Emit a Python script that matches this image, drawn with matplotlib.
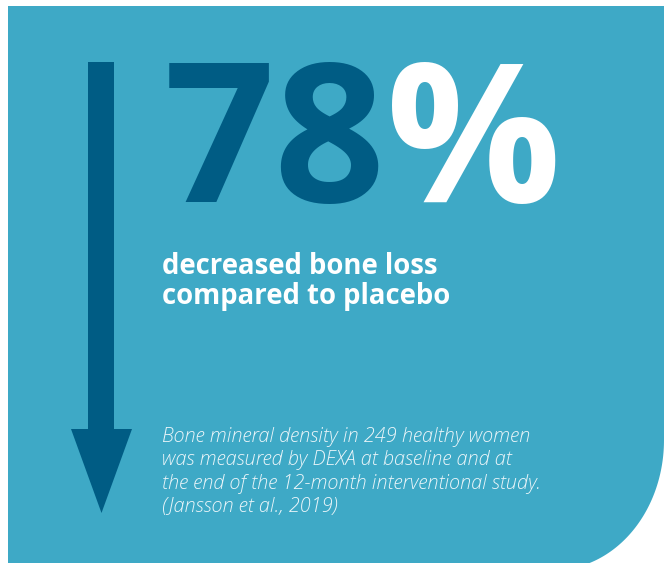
import matplotlib
matplotlib.use('Agg')
import matplotlib.pyplot as plt
from matplotlib.patches import Polygon
import numpy as np

# data
value = 78
headline = ['decreased bone loss', 'compared to placebo']
note = ['Bone mineral density in 249 healthy women',
        'was measured by DEXA at baseline and at',
        'the end of the 12-month interventional study.',
        '(Jansson et al., 2019)']

W, H = 664, 563
bg = '#3ea9c6'
dark = '#005c84'

fig = plt.figure(figsize=(W / 100, H / 100), dpi=100)
ax = fig.add_axes([0, 0, 1, 1])
ax.set_xlim(0, W)
ax.set_ylim(H, 0)
ax.axis('off')

# panel with big rounded bottom-right corner (elliptic, runs off the bottom)
rx, ry = 110, 130
cx, cy = W - rx, 440
t = np.linspace(0, np.pi / 2, 80)
arc = np.column_stack([cx + rx * np.cos(t), cy + ry * np.sin(t)])
verts = [(8, 6), (W, 6), (W, cy)] + [tuple(p) for p in arc] + [(8, cy + ry), (8, 6)]
ax.add_patch(Polygon(verts, closed=True, facecolor=bg, edgecolor='none'))

# down arrow
x0, x1, top = 88, 114, 62
hx0, hx1, hy, tip = 71, 132, 429, 513
arrow = [(x0, top), (x1, top), (x1, hy), (hx1, hy), ((hx0 + hx1) / 2, tip),
         (hx0, hy), (x0, hy)]
ax.add_patch(Polygon(arrow, closed=True, facecolor=dark, edgecolor='none'))

# big number
num = ax.text(164, 202, str(value), fontsize=140, fontweight='bold', color=dark,
              family='Open Sans', va='baseline', ha='left')
fig.canvas.draw()
bb = num.get_window_extent().transformed(ax.transData.inverted())
ax.text(bb.x1, 202, '%', fontsize=140, fontweight='bold', color='white',
        family='Open Sans', va='baseline', ha='left')

for i, line in enumerate(headline):
    ax.text(162, 274 + i * 30, line, fontsize=19.8, fontweight='bold',
            color='white', family='Open Sans', va='baseline', ha='left')

for i, line in enumerate(note):
    ax.text(162, 442 + i * 23.3, line, fontsize=14.3, fontweight='light',
            style='italic', color='#eaf5f9', family='Open Sans',
            va='baseline', ha='left')

fig.savefig('out.png', dpi=100, facecolor='white')
